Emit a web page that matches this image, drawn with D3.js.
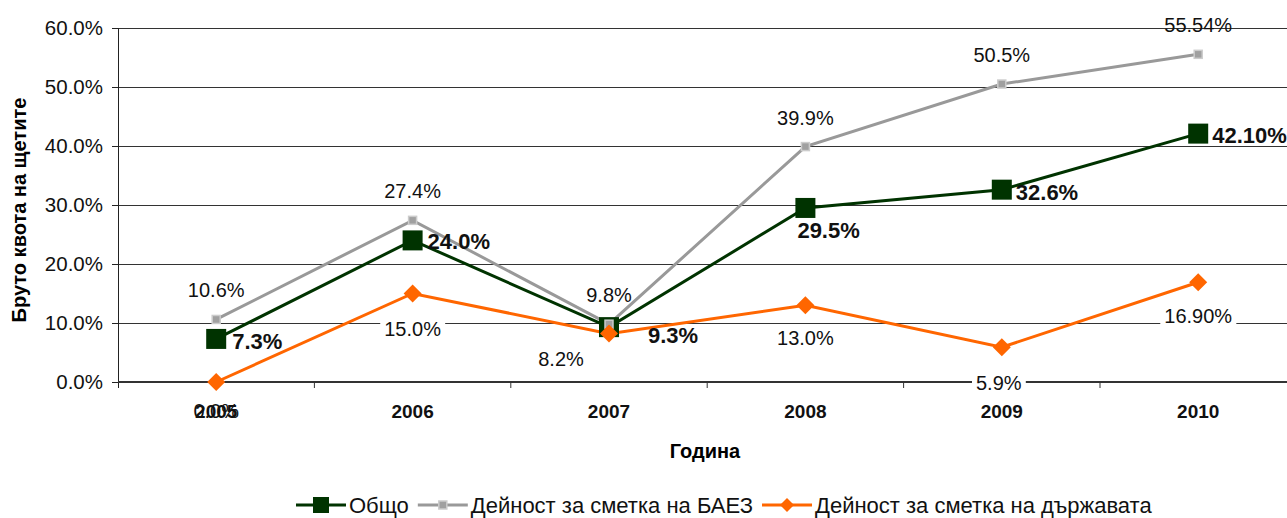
<!DOCTYPE html>
<html>
<head>
<meta charset="utf-8">
<script src="https://cdn.jsdelivr.net/npm/d3@7"></script>
<style>
  body { margin: 0; background: #fff; }
  svg { display: block; font-family: "Liberation Sans", Arial, sans-serif; }
</style>
</head>
<body>
<svg id="chart" width="1287" height="518"></svg>
<script>
  // data
  var years = ['2005', '2006', '2007', '2008', '2009', '2010'];
  var total = [7.3, 24.0, 9.3, 29.5, 32.6, 42.1];
  var baez = [10.6, 27.4, 9.8, 39.9, 50.5, 55.54];
  var state = [0.0, 15.0, 8.2, 13.0, 5.9, 16.9];
  var totalLabels = ['7.3%', '24.0%', '9.3%', '29.5%', '32.6%', '42.10%'];
  var baezLabels = ['10.6%', '27.4%', '9.8%', '39.9%', '50.5%', '55.54%'];
  var stateLabels = ['0.0%', '15.0%', '8.2%', '13.0%', '5.9%', '16.90%'];
  var yTicks = [0, 10, 20, 30, 40, 50, 60];
  var seriesNames = ['Общо', 'Дейност за сметка на БАЕЗ', 'Дейност за сметка на държавата'];

(function() {
  var svg = d3.select('#chart');
  var mLeft = 118, mTop = 28, mBottom = 382, bandW = 196.4;
  var font = '"Liberation Sans", Arial, sans-serif';

  var x = d3.scaleBand().domain(years).range([mLeft, mLeft + bandW * years.length]);
  var y = d3.scaleLinear().domain([0, 60]).range([mBottom, mTop]);
  var cx = function(i) { return x(years[i]) + x.bandwidth() / 2; };

  // gridlines
  svg.append('g').selectAll('line').data(yTicks.slice(1)).enter().append('line')
    .attr('x1', mLeft).attr('x2', 1287)
    .attr('y1', function(d) { return y(d) + 0.5; }).attr('y2', function(d) { return y(d) + 0.5; })
    .attr('stroke', '#333').attr('stroke-width', 1);

  // y axis
  var yAxis = svg.append('g').attr('transform', 'translate(' + mLeft + ',0)')
    .call(d3.axisLeft(y).tickValues(yTicks).tickSize(6).tickPadding(9)
      .tickFormat(function(d) { return d.toFixed(1) + '%'; }));
  yAxis.select('.domain').attr('stroke', '#222').attr('d', 'M0.5,' + mTop + 'V' + (mBottom + 6));
  yAxis.selectAll('.tick line').attr('stroke', '#222');
  yAxis.selectAll('text').attr('font-size', 20.5).attr('fill', '#111').attr('font-family', font);

  // x axis
  var xAxis = svg.append('g').attr('transform', 'translate(0,' + mBottom + ')')
    .call(d3.axisBottom(x).tickSize(0).tickPadding(23));
  xAxis.select('.domain').attr('stroke', '#333').attr('stroke-width', 2)
    .attr('d', 'M' + mLeft + ',0H1287');
  xAxis.selectAll('text').attr('font-size', 19).attr('font-weight', 'bold').attr('fill', '#111')
    .attr('font-family', font);
  svg.append('g').selectAll('line').data(d3.range(1, years.length)).enter().append('line')
    .attr('x1', function(i) { return mLeft + bandW * i; }).attr('x2', function(i) { return mLeft + bandW * i; })
    .attr('y1', mBottom).attr('y2', mBottom + 6).attr('stroke', '#333');

  // axis titles
  svg.append('text').attr('transform', 'translate(26,210) rotate(-90)')
    .attr('text-anchor', 'middle').attr('font-size', 20).attr('font-weight', 'bold')
    .text('Бруто квота на щетите');
  svg.append('text').attr('x', 705).attr('y', 458).attr('text-anchor', 'middle')
    .attr('font-size', 20).attr('font-weight', 'bold').text('Година');

  var line = function(vals) {
    return d3.line().x(function(d, i) { return cx(i); }).y(function(d) { return y(d); })(vals);
  };
  var diamond = function(s) { return 'M0,' + (-s) + 'L' + s + ',0L0,' + s + 'L' + (-s) + ',0Z'; };

  // label with white box behind it (state series)
  function boxedLabel(g, tx, ty, txt, boxed) {
    var t = g.append('text').attr('x', tx).attr('y', ty).attr('text-anchor', 'middle')
      .attr('font-size', 20).attr('fill', '#111').text(txt);
    if (!boxed) return;
    var b = t.node().getBBox();
    g.insert('rect', function() { return t.node(); })
      .attr('x', b.x - 4).attr('y', b.y + 3).attr('width', b.width + 8).attr('height', b.height - 6)
      .attr('fill', '#fff');
  }

  svg.append('path').attr('d', line(baez)).attr('fill', 'none')
    .attr('stroke', '#999').attr('stroke-width', 3);
  svg.append('path').attr('d', line(total)).attr('fill', 'none')
    .attr('stroke', '#003300').attr('stroke-width', 3);
  svg.append('path').attr('d', line(state)).attr('fill', 'none')
    .attr('stroke', '#ff6600').attr('stroke-width', 3);

  svg.append('g').selectAll('rect').data(total).enter().append('rect')
    .attr('x', function(d, i) { return cx(i) - 10; }).attr('y', function(d) { return y(d) - 10; })
    .attr('width', 20).attr('height', 20).attr('fill', '#003300');
  svg.append('g').selectAll('rect').data(baez).enter().append('rect')
    .attr('x', function(d, i) { return cx(i) - 4; }).attr('y', function(d) { return y(d) - 4; })
    .attr('width', 8).attr('height', 8).attr('fill', '#a0a0a0').attr('stroke', '#ccc').attr('stroke-width', 1.5);
  svg.append('g').selectAll('path').data(state).enter().append('path')
    .attr('d', diamond(9))
    .attr('transform', function(d, i) { return 'translate(' + cx(i) + ',' + y(d) + ')'; })
    .attr('fill', '#ff6600');

  // gray labels
  svg.append('g').selectAll('text').data(baez).enter().append('text')
    .attr('x', function(d, i) { return cx(i); })
    .attr('y', function(d) { return y(d) - 22; })
    .attr('text-anchor', 'middle').attr('font-size', 20).attr('fill', '#111')
    .text(function(d, i) { return baezLabels[i]; });

  // total labels, bold
  var totalOff = [[16, 10], [15, 9], [39, 16], [-8, 30], [14, 10], [14, 9.5]];
  svg.append('g').selectAll('text').data(total).enter().append('text')
    .attr('x', function(d, i) { return cx(i) + totalOff[i][0]; })
    .attr('y', function(d, i) { return y(d) + totalOff[i][1]; })
    .attr('font-size', 22).attr('font-weight', 'bold').attr('fill', '#111')
    .text(function(d, i) { return totalLabels[i]; });

  // state labels
  var stateOff = [[0, 36], [0, 42], [-48, 32], [0, 40], [-3, 43], [0, 41]];
  var sg = svg.append('g');
  state.forEach(function(d, i) {
    boxedLabel(sg, cx(i) + stateOff[i][0], y(d) + stateOff[i][1], stateLabels[i], i > 0);
  });

  // legend
  var legend = svg.append('g').attr('transform', 'translate(296,505)');
  var lx = 0;
  seriesNames.forEach(function(name, i) {
    var g = legend.append('g').attr('transform', 'translate(' + lx + ',0)');
    var col = ['#003300', '#999', '#ff6600'][i];
    g.append('line').attr('x1', 0).attr('x2', 50).attr('y1', 0).attr('y2', 0)
      .attr('stroke', col).attr('stroke-width', 3);
    if (i === 0) g.append('rect').attr('x', 17).attr('y', -8).attr('width', 16).attr('height', 16).attr('fill', col);
    if (i === 1) g.append('rect').attr('x', 21).attr('y', -4).attr('width', 8).attr('height', 8)
      .attr('fill', '#a0a0a0').attr('stroke', '#ccc').attr('stroke-width', 1.5);
    if (i === 2) g.append('path').attr('d', diamond(7))
      .attr('transform', 'translate(25,0)').attr('fill', col);
    var t = g.append('text').attr('x', 53).attr('y', 7.5).attr('font-size', 22).attr('fill', '#111').text(name);
    lx += 53 + t.node().getComputedTextLength() + 9;
  });
})();
</script>
</body>
</html>
